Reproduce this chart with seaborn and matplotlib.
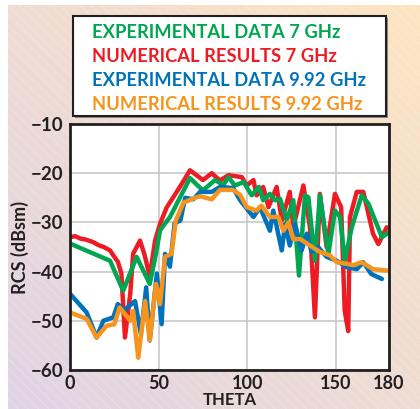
import numpy as np
import pandas as pd
import matplotlib
matplotlib.use("Agg")
import matplotlib.pyplot as plt
import seaborn as sns
from matplotlib.patches import Rectangle

# data

theta_exp7 = [0, 22.6, 30, 37.6, 45, 48.5, 50.8, 56.4, 67.7, 75, 81.8, 86.5, 89.4, 93, 98,
              102.5, 106.5, 109, 112.8, 115.7, 118.5, 122.3, 126, 129.2, 132.6, 134.5, 138.2,
              141, 145.8, 149.5, 152.4, 155, 159, 164.6, 168.4, 176, 180]
rcs_exp7 = [-34.3, -37.8, -43.9, -37, -42.5, -36.4, -31.6, -28.9, -21, -23.5, -21.4, -22.4, -20.8,
            -22.5, -21.8, -24.5, -22.8, -25.5, -24.2, -25.5, -25.2, -29.6, -25.5, -40.8, -24.5,
            -24.9, -37.8, -24.5, -36.4, -27.6, -28.9, -37.8, -31, -24.5, -26.2, -33, -32]

theta_num7 = [0, 3, 6, 9, 13, 16, 19, 22.6, 25, 27, 29, 31, 34, 35.6, 39.5, 42, 45, 48, 50.8,
              54.5, 62, 67.7, 75, 80, 84.6, 89.4, 97, 99.7, 103.5, 105.3, 109, 112, 116.6, 119.5,
              124, 126, 131.7, 135.4, 138.2, 141, 144.8, 149.5, 153, 155, 157, 158, 161.8, 165.5,
              171, 174, 178.7]
rcs_num7 = [-33, -32.8, -33.3, -33.5, -34, -34.6, -35, -35.7, -37, -38, -40.4, -53.4, -44.5,
            -36.4, -33.7, -36.5, -41, -33.7, -30.3, -27, -22.8, -19.4, -21.4, -20, -21.5, -20.4,
            -20.8, -22.5, -21.4, -24.5, -22.8, -26.9, -22.8, -29.6, -23.8, -31, -22.5, -31, -49.3,
            -24.2, -35, -24.2, -26.9, -47.9, -52.1, -28.9, -23.8, -23.8, -32.3, -34.4, -31]

theta_exp992 = [0, 9.4, 15, 18.8, 24.4, 27, 30.5, 36.7, 40, 43, 45, 49, 51.7, 53.6, 56.4, 59,
                62.3, 65, 69.6, 73.4, 80, 84.6, 92, 96, 103.5, 107.2, 112.8, 114.7, 119.5, 121.4,
                124, 127, 130.7, 133.6, 136.3, 140, 144.8, 150.5, 156, 161.8, 165.5, 170, 176]
rcs_exp992 = [-44.5, -48.3, -53.4, -50, -49.3, -46.6, -47.9, -46, -52.7, -43.2, -54, -40.4, -50.7,
              -36.4, -39, -30.2, -29.6, -25, -25.3, -23.8, -23.8, -22.8, -23, -25.5, -28.9, -26.9,
              -31.7, -27.6, -35.7, -30.3, -34.7, -30.3, -35.7, -32.3, -36, -35, -37, -37.8, -39.1,
              -39.5, -38.1, -40.5, -41.5]

theta_num992 = [0, 9.4, 15, 20.7, 25, 28, 34, 35.6, 38.5, 42.4, 45, 48.5, 50.8, 53.6, 57.3, 59.7,
                64, 70.5, 73.4, 80, 84.6, 92, 96, 99.7, 105.3, 108, 112.8, 117.6, 120.4, 123.3,
                126, 130, 135.4, 141, 146.7, 150.5, 156, 159.8, 164.6, 171, 179.5]
rcs_num992 = [-48.3, -49.6, -53.4, -51, -50.7, -47.3, -50, -48, -57.5, -46, -54, -42.5, -46.6, -37,
              -36.4, -29.6, -26, -25, -24.7, -25.3, -23.4, -23.4, -24.4, -26.9, -27.6, -26.6,
              -28.9, -28.9, -31.7, -30, -33.4, -33.4, -34.7, -36, -36.7, -38.1, -38.4, -38.7,
              -38.1, -39.5, -39.8]

labels = ["EXPERIMENTAL DATA 7 GHz", "NUMERICAL RESULTS 7 GHz",
          "EXPERIMENTAL DATA 9.92 GHz", "NUMERICAL RESULTS 9.92 GHz"]
colors = ["#00A651", "#ED1C24", "#0072BC", "#F7941D"]

x_ticks = [0, 50, 100, 150, 180]
y_ticks = [-60, -50, -40, -30, -20, -10]

sns.set_theme(style="white")
plt.rcParams['font.family'] = ['Lato', 'DejaVu Sans']

fig = plt.figure(figsize=(4.2, 4.09), dpi=100)

# gradient background with faint diagonal hatching
bg = fig.add_axes([8 / 420, 0, 412 / 420, 404 / 409], zorder=-10)
gx, gy = np.meshgrid(np.linspace(0, 1, 200), np.linspace(0, 1, 200))
t = np.clip((gx + gy) / 2, 0, 1)
c0 = np.array([224, 211, 229]) / 255.0
c1 = np.array([253, 229, 193]) / 255.0
img = c0[None, None, :] * (1 - t[..., None]) + c1[None, None, :] * t[..., None]
bg.imshow(img, extent=[0, 1, 0, 1], origin="lower", aspect="auto")
for k in np.arange(-1, 2, 0.025):
    bg.plot([k, k + 1], [1, 0], color="white", lw=0.5, alpha=0.3)
bg.set_xlim(0, 1)
bg.set_ylim(0, 1)
bg.axis("off")

ax = fig.add_axes([70 / 420, 1 - 370 / 409, 319 / 420, 246 / 409])
ax.set_facecolor("white")

series = [(theta_num7, rcs_num7, 1), (theta_exp7, rcs_exp7, 0),
          (theta_exp992, rcs_exp992, 2), (theta_num992, rcs_num992, 3)]
for th, rcs, i in series:
    sns.lineplot(x=th, y=rcs, ax=ax, color=colors[i], lw=3.2, sort=False,
                 solid_capstyle="round", solid_joinstyle="round")

ax.set_xlim(0, 180)
ax.set_ylim(-60, -10)
ax.set_xticks(x_ticks)
ax.set_yticks(y_ticks)
ax.set_yticklabels(["\u221260", "\u221250", "\u221240", "\u221230", "\u221220", "\u221210"])
ax.grid(True, color="#C8C8C8", lw=1.2)
ax.set_axisbelow(True)
for s in ax.spines.values():
    s.set_color("#231F20")
    s.set_linewidth(2)
ax.tick_params(axis="both", length=3, width=1, color="#C8C8C8", pad=2,
               labelsize=13.5, labelcolor="#231F20")
ax.tick_params(axis="x", pad=0.5, labelsize=13)
for lab in ax.get_xticklabels() + ax.get_yticklabels():
    lab.set_fontweight("bold")
ax.set_xlabel("THETA", fontsize=12, fontweight="bold", color="#231F20")
ax.xaxis.set_label_coords(0.5, -0.088)
ax.set_ylabel("RCS (dBsm)", fontsize=13, fontweight="bold", color="#231F20", labelpad=1)

# legend box drawn as coloured text lines
fig.patches.append(Rectangle((75 / 420, 1 - 118 / 409), 313 / 420, 100 / 409,
                             transform=fig.transFigure, facecolor="#888888",
                             edgecolor="none", zorder=1))
fig.patches.append(Rectangle((73 / 420, 1 - 116 / 409), 313 / 420, 100 / 409,
                             transform=fig.transFigure, facecolor="white",
                             edgecolor="#231F20", lw=1.5, zorder=2))
for i, (lab, col) in enumerate(zip(labels, colors)):
    fig.text(92 / 420, 1 - (33 + 24 * i) / 409, lab, color=col, fontsize=13.2,
             fontweight="bold", va="center", ha="left", zorder=3)

fig.savefig("out.png", dpi=100)
